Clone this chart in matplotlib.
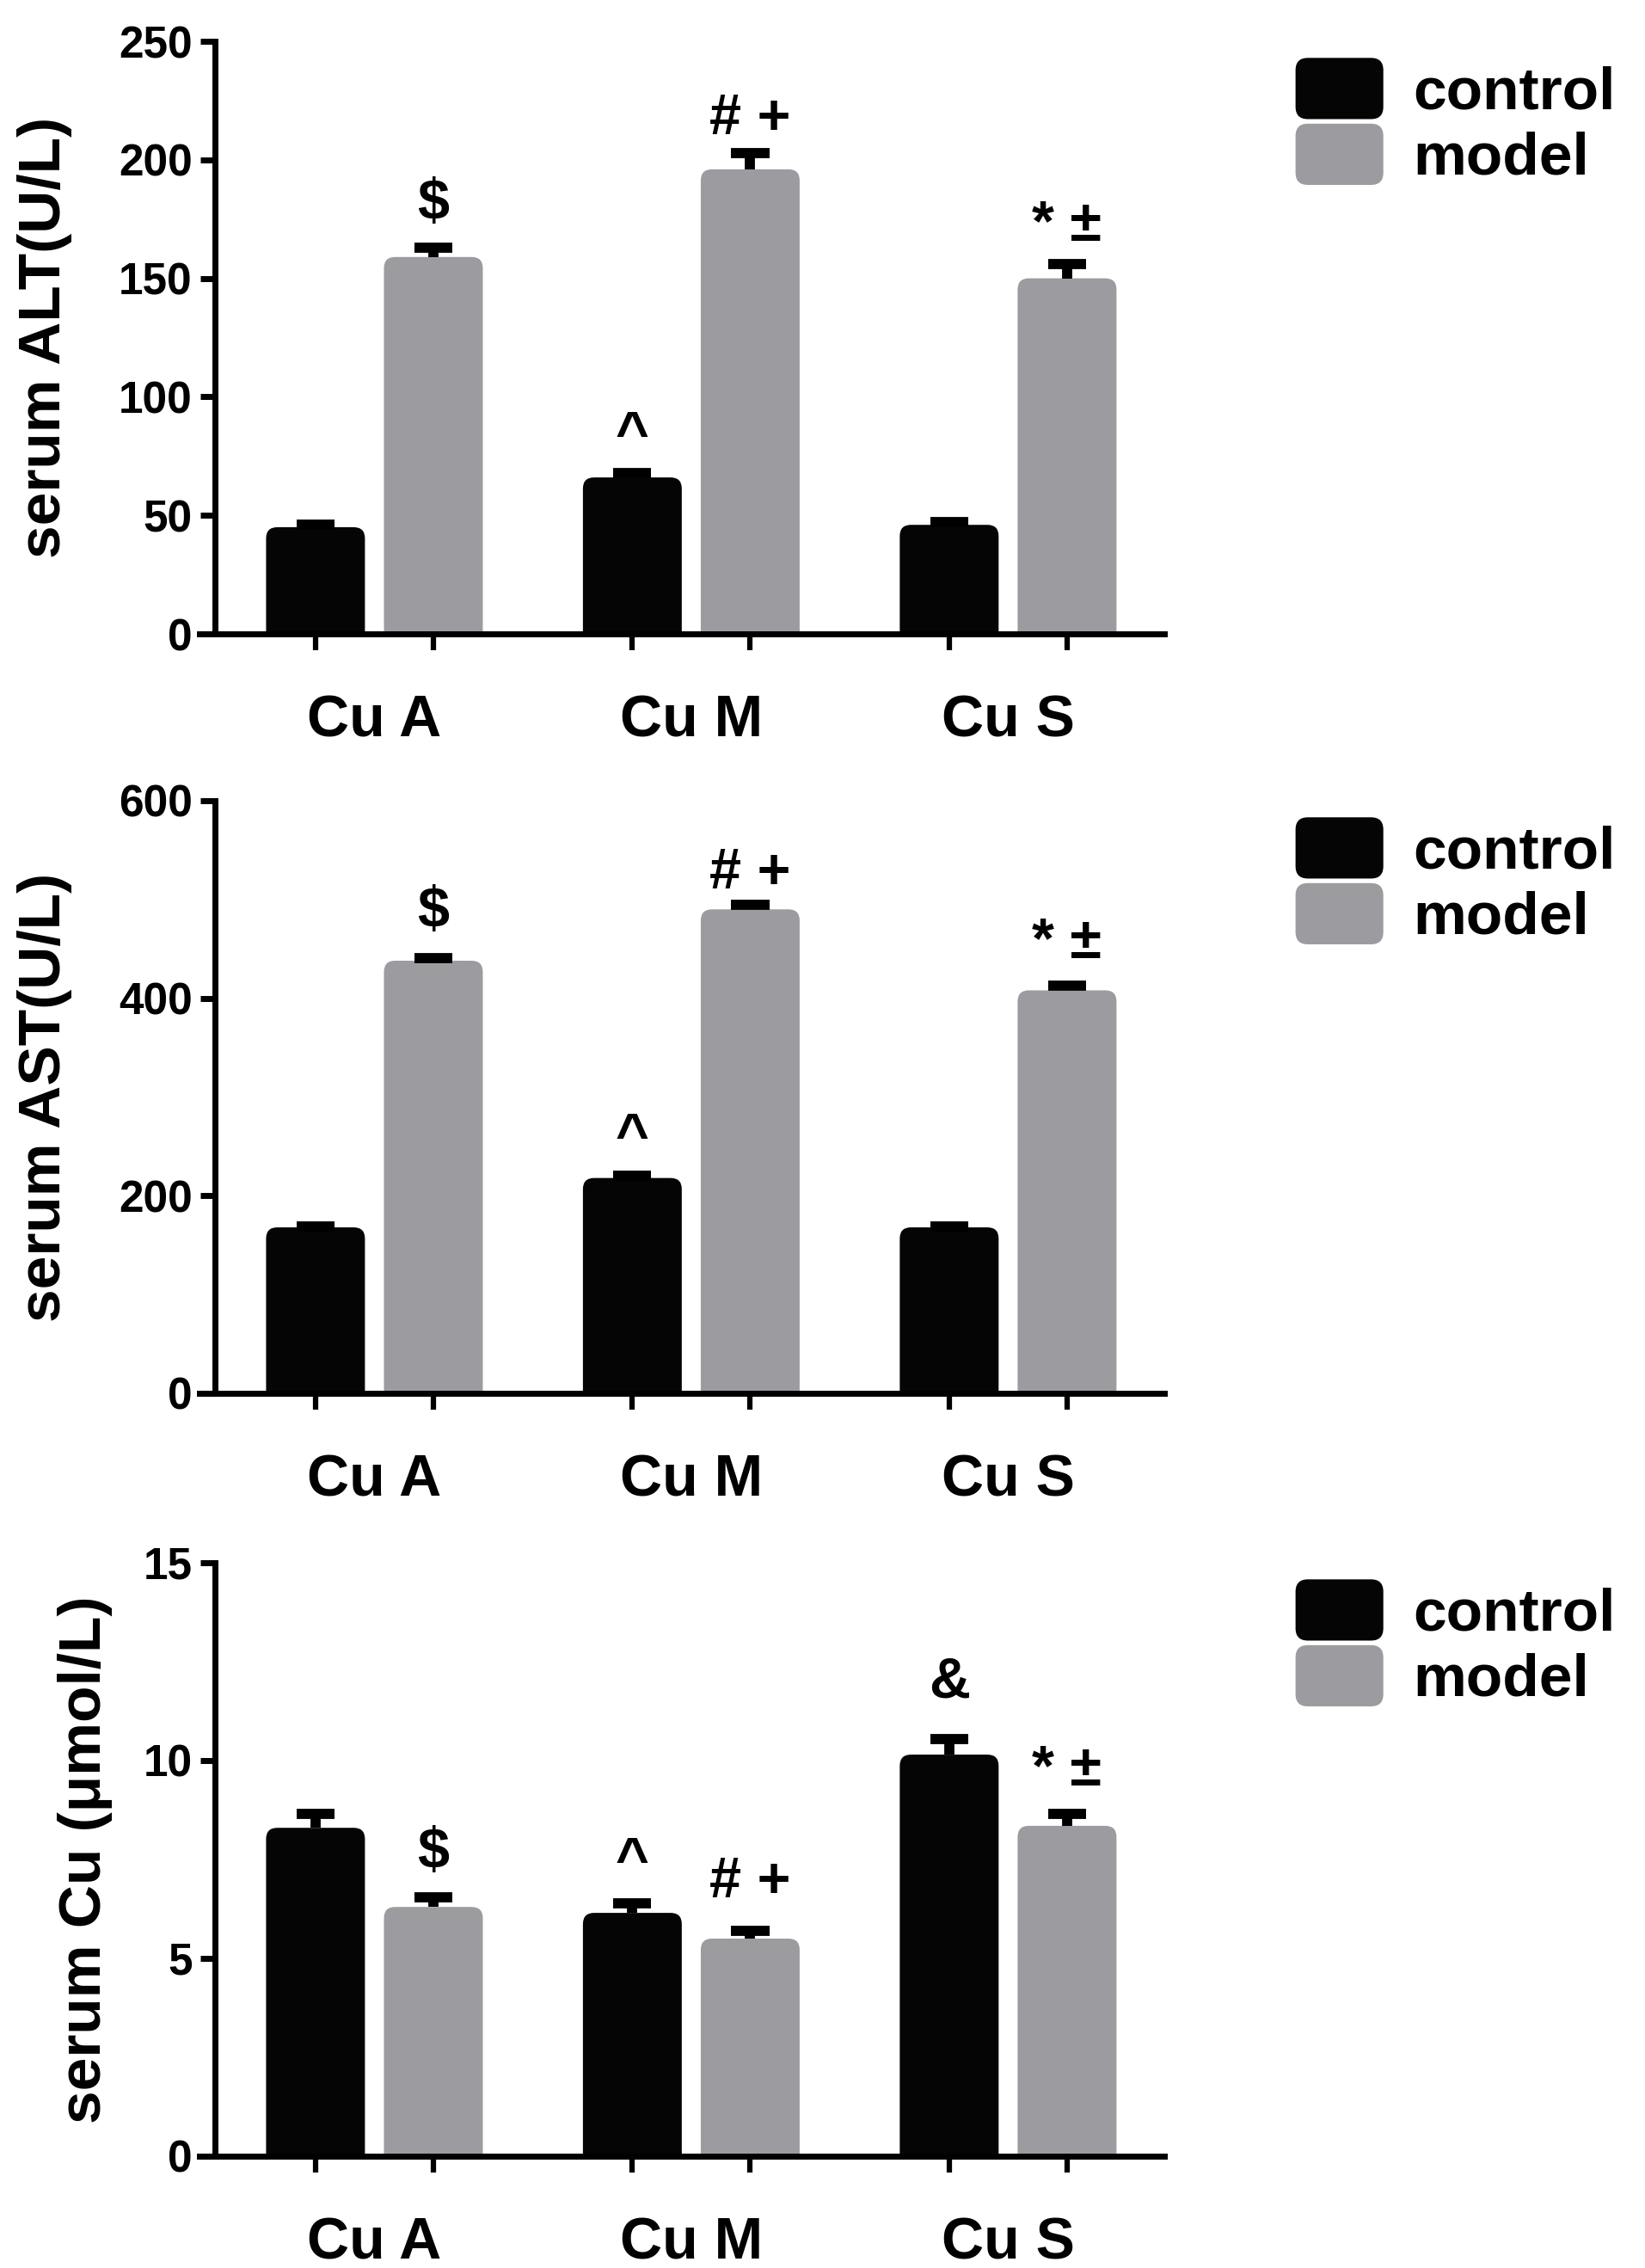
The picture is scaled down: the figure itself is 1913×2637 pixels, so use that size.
import numpy as np
import matplotlib
matplotlib.use('Agg')
import matplotlib.pyplot as plt
from matplotlib.patches import Patch, FancyBboxPatch, BoxStyle
from matplotlib.legend_handler import HandlerPatch

plt.rcParams['font.family'] = ['Liberation Sans', 'DejaVu Sans']
plt.rcParams['font.weight'] = 'bold'

groups = ['Cu A', 'Cu M', 'Cu S']
series = ['control', 'model']

# serum ALT (U/L)
alt_control = [45, 66, 46]
alt_control_err = [1, 2, 1]
alt_model = [159, 196, 150]
alt_model_err = [4, 7, 6]
alt_marks = ['', '^', '', '$', '# +', '* \u00b1']
alt_mark_y = [0, 77, 0, 175, 211, 166]

# serum AST (U/L)
ast_control = [168, 218, 168]
ast_control_err = [1, 2, 1]
ast_model = [438, 490, 408]
ast_model_err = [3, 5, 5]
ast_marks = ['', '^', '', '$', '# +', '* \u00b1']
ast_mark_y = [0, 243, 0, 472, 511, 441]

# serum Cu (umol/L)
cu_control = [8.3, 6.15, 10.15]
cu_control_err = [0.35, 0.25, 0.4]
cu_model = [6.3, 5.5, 8.35]
cu_model_err = [0.25, 0.2, 0.3]
cu_marks = ['', '^', '&', '$', '# +', '* \u00b1']
cu_mark_y = [0, 7.04, 11.59, 7.28, 6.54, 9.37]

BLACK = '#050505'
GRAY = '#9c9ca0'
COLORS = [BLACK, GRAY]
XLIM = (-0.552, 2.493)


def round_box(legend, orig_handle, xdescent, ydescent, width, height, fontsize):
    return FancyBboxPatch((-xdescent, -ydescent), width, height,
                          boxstyle=BoxStyle('Round', pad=0, rounding_size=height * 0.2),
                          facecolor=orig_handle.get_facecolor(), edgecolor='none')


def rounded_bars(ax, xs, heights, width, color, r_px=13):
    # plain bars first, then give them the soft top corners of the original
    bars = ax.bar(xs, heights, width=width, color=color, zorder=2)
    xpp = (ax.get_xlim()[1] - ax.get_xlim()[0]) / ax.bbox.width
    ypp = (ax.get_ylim()[1] - ax.get_ylim()[0]) / ax.bbox.height
    for b in bars:
        b.set_visible(False)
        p = FancyBboxPatch((b.get_x(), b.get_y() - r_px * ypp), b.get_width(),
                           b.get_height() + r_px * ypp,
                           boxstyle=BoxStyle('Round', pad=0, rounding_size=r_px * xpp),
                           mutation_aspect=ypp / xpp, facecolor=color,
                           edgecolor='none', zorder=2)
        ax.add_patch(p)


def draw_panel(ax, control, control_err, model, model_err, marks, mark_y,
               ylim, yticks, ylabel, label_x):
    ax.set_xlim(*XLIM)
    ax.set_ylim(*ylim)
    x = np.arange(len(groups))
    w = 0.312
    off = 0.186
    cap = 0.06
    vals = [control, model]
    errs = [control_err, model_err]
    for i in range(2):
        xs = x + (i * 2 - 1) * off
        rounded_bars(ax, xs, vals[i], w, COLORS[i])
        tops = np.array(vals[i]) + np.array(errs[i])
        ax.vlines(xs, vals[i], tops, color='black', lw=8.5, zorder=3)
        ax.hlines(tops, xs - cap, xs + cap, color='black', lw=8.5, zorder=3)
    xs_all = list(x - off) + list(x + off)
    for xi, s, yi in zip(xs_all, marks, mark_y):
        if s:
            ax.text(xi, yi, s, ha='center', va='baseline', fontsize=48,
                    fontweight='bold', zorder=4)

    ax.set_xlim(*XLIM)
    ax.set_ylim(*ylim)
    ax.set_yticks(yticks)
    ax.set_xticks(x, groups)
    ax.set_xticks(xs_all, minor=True)
    ax.tick_params(axis='x', which='major', length=0, pad=50, labelsize=49)
    ax.tick_params(axis='x', which='minor', length=14, width=4.5, direction='out')
    ax.tick_params(axis='y', length=12, width=5, pad=7, labelsize=37)
    for lab in ax.get_xticklabels() + ax.get_yticklabels():
        lab.set_fontweight('bold')
    ax.spines['top'].set_visible(False)
    ax.spines['right'].set_visible(False)
    ax.spines['left'].set_position(('data', -0.503))
    ax.spines['left'].set_linewidth(5)
    ax.spines['bottom'].set_linewidth(5)
    ax.spines['bottom'].set_zorder(5)
    ax.set_ylabel(ylabel, fontsize=50, fontweight='bold')
    ax.yaxis.set_label_coords(label_x, 0.5)

    handles = [Patch(facecolor=c) for c in COLORS]
    ax.legend(handles, series, loc='upper left', bbox_to_anchor=(1.136, 0.972),
              frameon=False, handlelength=1.47, handleheight=1.2,
              handletextpad=0.5, labelspacing=0.05, borderpad=0, borderaxespad=0,
              prop={'weight': 'bold', 'size': 50},
              handler_map={Patch: HandlerPatch(patch_func=round_box)})


fig = plt.figure(figsize=(19.13, 26.37), dpi=100)
ax1 = fig.add_axes([0.1213, 0.72051, 0.5865, 0.26128])
ax2 = fig.add_axes([0.1213, 0.38567, 0.5865, 0.26128])
ax3 = fig.add_axes([0.1213, 0.0493, 0.5865, 0.26166])

draw_panel(ax1, alt_control, alt_control_err, alt_model, alt_model_err, alt_marks, alt_mark_y,
           (0, 250), [0, 50, 100, 150, 200, 250], 'serum ALT(U/L)', -0.132)
draw_panel(ax2, ast_control, ast_control_err, ast_model, ast_model_err, ast_marks, ast_mark_y,
           (0, 600), [0, 200, 400, 600], 'serum AST(U/L)', -0.132)
draw_panel(ax3, cu_control, cu_control_err, cu_model, cu_model_err, cu_marks, cu_mark_y,
           (0, 15), [0, 5, 10, 15], 'serum Cu (\u03bcmol/L)', -0.090)

fig.savefig('out.png', dpi=100)
